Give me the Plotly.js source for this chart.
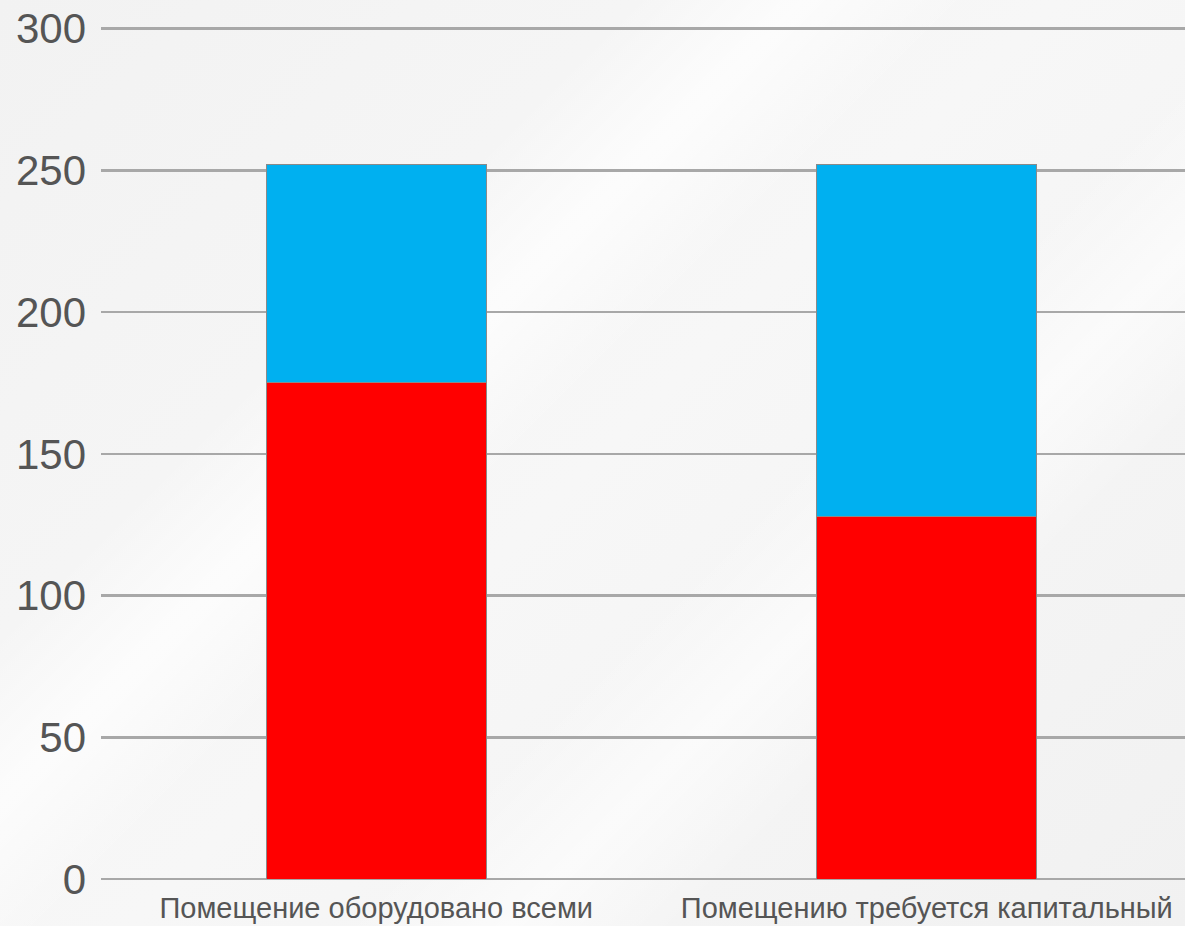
<!DOCTYPE html>
<html>
<head>
<meta charset="utf-8">
<script src="https://cdn.plot.ly/plotly-3.0.1.min.js"></script>
<style>
html,body{margin:0;padding:0;}
body{width:1185px;height:926px;overflow:hidden;
background:
linear-gradient(135deg, rgba(255,255,255,0) 0%, rgba(255,255,255,0.0) 30%, rgba(255,255,255,0.7) 38%, rgba(255,255,255,0) 46%, rgba(255,255,255,0) 60%, rgba(255,255,255,0.6) 68%, rgba(255,255,255,0) 76%),
linear-gradient(135deg, #f2f2f2 0%, #f7f7f7 50%, #f1f1f1 100%);}
#chart{width:1185px;height:926px;}
</style>
</head>
<body>
<div id="chart"></div>
<script>
const categories = ["Помещение оборудовано всеми", "Помещению требуется капитальный"];
const redValues = [175, 128];
const blueValues = [77, 124];
const yTicks = [0, 50, 100, 150, 200, 250, 300];

const traces = [
  {type:'bar', x:[0,1], y:redValues, marker:{color:'#ff0000', line:{color:'#8a8a8a', width:1}}, width:0.4, hoverinfo:'none'},
  {type:'bar', x:[0,1], y:blueValues, marker:{color:'#00b0f0', line:{color:'#8a8a8a', width:1}}, width:0.4, hoverinfo:'none'}
];

const layout = {
  width:1185, height:926,
  margin:{l:101, r:0, t:23, b:47},
  paper_bgcolor:'rgba(0,0,0,0)', plot_bgcolor:'rgba(0,0,0,0)',
  barmode:'stack', showlegend:false,
  font:{family:'Liberation Sans, Arial, sans-serif', color:'#555555'},
  xaxis:{range:[-0.5,1.469], tickvals:[0,1], ticktext:categories, showgrid:false, zeroline:false,
         showline:false, ticks:'', ticklabelstandoff:9, tickfont:{size:29, color:'#555555'}, fixedrange:true},
  yaxis:{range:[0,302], tickvals:yTicks, showgrid:true, gridcolor:'#a8a8a8', gridwidth:2.5,
         zeroline:true, zerolinecolor:'#a8a8a8', zerolinewidth:2.5, ticks:'', ticklabelstandoff:14,
         tickfont:{size:42, color:'#555555'}, fixedrange:true}
};

Plotly.newPlot('chart', traces, layout, {displayModeBar:false, staticPlot:true});
</script>
</body>
</html>
